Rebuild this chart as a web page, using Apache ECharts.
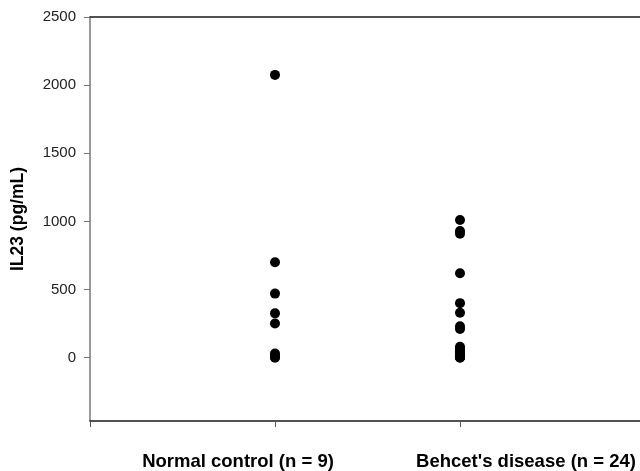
<!DOCTYPE html>
<html>
<head>
<meta charset="utf-8">
<script src="https://cdn.jsdelivr.net/npm/echarts@6/dist/echarts.min.js"></script>
<style>
  html, body { margin: 0; padding: 0; background: #fff; }
  #myChart { width: 640px; height: 471px; }
</style>
</head>
<body>
<div id="myChart"></div>
<script>
// groups on the x axis (placed at x = 1 and x = 2)
var groups = ['Normal control (n = 9)', "Behcet's disease (n = 24)"];
var normalValues = [2075, 700, 470, 325, 250, 30, 15, 5, 0];
var behcetValues = [1010, 930, 910, 620, 400, 330, 230, 210,
  80, 65, 55, 45, 40, 35, 30, 25, 20, 15, 10, 8, 5, 3, 2, 0];
var yTicks = [0, 500, 1000, 1500, 2000, 2500];
var xTicks = [0, 1, 2];

var myChart = echarts.init(document.getElementById('myChart'));

function toPoints(pos, arr) {
  return arr.map(function (v) { return [pos, v]; });
}

// the plot is cut at the right edge, last tick (3) falls just outside
var xMax = 2.973;

var option = {
  animation: false,
  grid: { left: 90, right: 0, top: 17, bottom: 50 },
  xAxis: [
    {
      type: 'value',
      min: 0,
      max: xMax,
      splitLine: { show: false },
      axisLine: { onZero: false, lineStyle: { color: '#1a1a1a', width: 1.5 } },
      axisTick: { show: true, length: 6, customValues: xTicks, lineStyle: { color: '#555' } },
      axisLabel: {
        customValues: [1, 2],
        margin: 31,
        formatter: function (val) {
          return val === 1 ? '{a|' + groups[0] + '}' : '{b|' + groups[1] + '}';
        },
        rich: {
          a: { fontFamily: 'Liberation Sans, Arial', fontWeight: 'bold', fontSize: 18.5, color: '#000', padding: [0, 74, 0, 0] },
          b: { fontFamily: 'Liberation Sans, Arial', fontWeight: 'bold', fontSize: 18.5, color: '#000', padding: [0, 0, 0, 132] }
        }
      }
    },
    {
      type: 'value',
      position: 'top',
      min: 0,
      max: xMax,
      axisLine: { onZero: false, lineStyle: { color: '#1a1a1a', width: 1.5 } },
      axisTick: { show: false },
      axisLabel: { show: false },
      splitLine: { show: false }
    }
  ],
  yAxis: {
    type: 'value',
    min: -465,
    max: 2500,
    name: 'IL23 (pg/mL)',
    nameLocation: 'middle',
    nameGap: 63,
    nameTextStyle: { fontFamily: 'Liberation Sans, Arial', fontWeight: 'bold', fontSize: 17.5, color: '#000' },
    splitLine: { show: false },
    axisLine: { show: true, onZero: false, lineStyle: { color: '#777', width: 1.5 } },
    axisTick: { show: true, length: 6, customValues: yTicks, lineStyle: { color: '#777' } },
    axisLabel: {
      customValues: yTicks,
      margin: 14,
      fontFamily: 'Liberation Sans, Arial',
      fontSize: 15,
      color: '#222',
      formatter: function (val) { return String(val); }
    }
  },
  series: [
    {
      name: groups[0],
      type: 'scatter',
      symbolSize: 10,
      xAxisIndex: 0,
      itemStyle: { color: '#000', opacity: 1 },
      data: toPoints(1, normalValues)
    },
    {
      name: groups[1],
      type: 'scatter',
      symbolSize: 10,
      xAxisIndex: 0,
      itemStyle: { color: '#000', opacity: 1 },
      data: toPoints(2, behcetValues)
    }
  ]
};
myChart.setOption(option);
</script>
</body>
</html>
